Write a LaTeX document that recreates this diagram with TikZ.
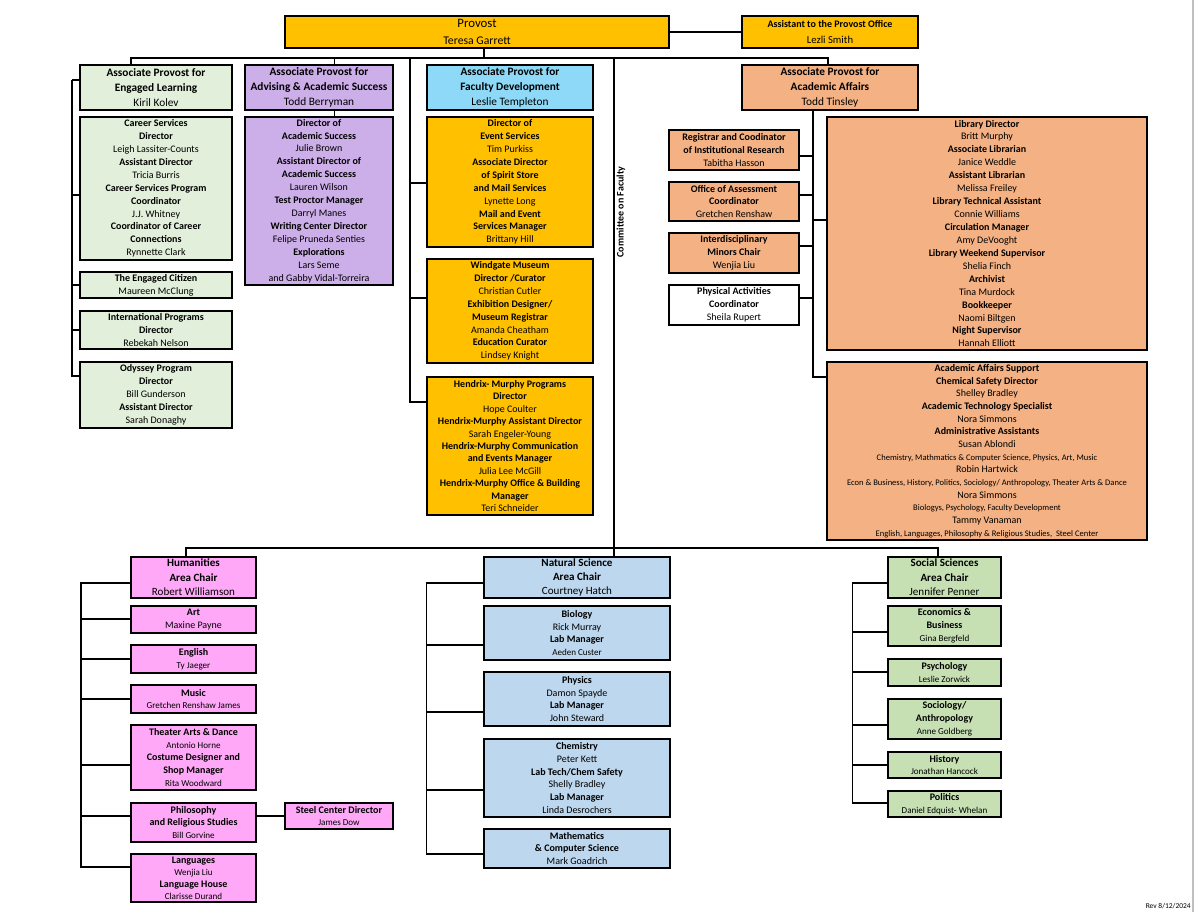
\documentclass[tikz,border=0pt]{standalone}
\usepackage{fontspec}
\setmainfont{Carlito}
\usepackage{xcolor}
\definecolor{goldbox}{RGB}{255,192,0}
\definecolor{sagebox}{RGB}{226,239,218}
\definecolor{lilacbox}{RGB}{204,174,232}
\definecolor{skybox}{RGB}{142,217,247}
\definecolor{peachbox}{RGB}{244,177,131}
\definecolor{pinkbox}{RGB}{255,168,247}
\definecolor{paleblue}{RGB}{189,215,238}
\definecolor{leafbox}{RGB}{198,224,180}
\newcommand{\ti}[1]{\textbf{#1}}
\newcommand{\smallname}[1]{{\fontsize{6.8}{9.7}\selectfont #1}}
\newcommand{\smallnote}[1]{{\fontsize{6.4}{9.5}\selectfont #1}}
\tikzset{
  orgbox/.style args={#1/#2/#3/#4}{draw=black,line width=0.8pt,inner sep=0pt,align=center,
    at={({(#1+#3)/2},{(#2+#4)/2})},
    minimum width={(#3-#1)*0.75pt},minimum height={(#4-#2)*0.75pt},
    font=\fontsize{7.5}{9.7}\selectfont},
  headtext/.style={font=\fontsize{8.5}{11.2}\selectfont},
  chairtext/.style={font=\fontsize{8.3}{10.8}\selectfont},
  linkline/.style={line width=0.8pt},
  heavyline/.style={line width=1.8pt}
}
\begin{document}
\begin{tikzpicture}[x=0.75pt,y=0.75pt,yscale=-1,xscale=1]
\useasboundingbox (0,0) rectangle (1197,912);

%Top row
\node (provost) [orgbox=285/16/669/48,fill=goldbox,font=\fontsize{8.8}{12.4}\selectfont] {{\fontsize{9.6}{12.4}\selectfont Provost}\\Teresa Garrett};
\node (assistant) [orgbox=742/16/918/48,fill=goldbox,font=\fontsize{8}{12}\selectfont] {{\fontsize{7.5}{12}\selectfont\ti{Assistant to the Provost Office}}\\Lezli Smith};

%Engaged learning column
\node (engaged) [orgbox=80/65/232/110,fill=sagebox,headtext] {\ti{Associate Provost for}\\\ti{Engaged Learning}\\Kiril Kolev};
\node (careers) [orgbox=80/117/232/260,fill=sagebox] {\ti{Career Services}\\\ti{Director}\\Leigh Lassiter-Counts\\\ti{Assistant Director}\\Tricia Burris\\\ti{Career Services Program}\\\ti{Coordinator}\\J.J. Whitney\\\ti{Coordinator of Career}\\\ti{Connections}\\Rynnette Clark};
\node (citizen) [orgbox=80/272/232/298,fill=sagebox] {\ti{The Engaged Citizen}\\Maureen McClung};
\node (international) [orgbox=80/311/232/349,fill=sagebox] {\ti{International Programs}\\\ti{Director}\\Rebekah Nelson};
\node (odyssey) [orgbox=80/362/232/428,fill=sagebox] {\ti{Odyssey Program}\\\ti{Director}\\Bill Gunderson\\\ti{Assistant Director}\\Sarah Donaghy};

%Advising column
\node (advising) [orgbox=245/65/393/110,fill=lilacbox,headtext] {\ti{Associate Provost for}\\\ti{Advising \& Academic Success}\\Todd Berryman};
\node (success) [orgbox=245/117/393/285,fill=lilacbox] {\ti{Director of}\\\ti{Academic Success}\\Julie Brown\\\ti{Assistant Director of}\\\ti{Academic Success}\\Lauren Wilson\\\ti{Test Proctor Manager}\\Darryl Manes\\\ti{Writing Center Director}\\Felipe Pruneda Senties\\\ti{Explorations}\\Lars Seme\\and Gabby Vidal-Torreira};

%Faculty development column
\node (faculty) [orgbox=427/65/593/110,fill=skybox,headtext] {\ti{Associate Provost for}\\\ti{Faculty Development}\\Leslie Templeton};
\node (events) [orgbox=427/117/593/247,fill=goldbox] {\ti{Director of}\\\ti{Event Services}\\Tim Purkiss\\\ti{Associate Director}\\\ti{of Spirit Store}\\\ti{and Mail Services}\\Lynette Long\\\ti{Mail and Event}\\\ti{Services Manager}\\Brittany Hill};
\node (windgate) [orgbox=427/259/593/363,fill=goldbox] {\ti{Windgate Museum}\\\ti{Director /Curator}\\Christian Cutler\\\ti{Exhibition Designer/}\\\ti{Museum Registrar}\\Amanda Cheatham\\\ti{Education Curator}\\Lindsey Knight};
\node (hendrix) [orgbox=427/377/593/515,fill=goldbox,font=\fontsize{7.5}{9.35}\selectfont] {\ti{Hendrix- Murphy Programs}\\\ti{Director}\\Hope Coulter\\\ti{Hendrix-Murphy Assistant Director}\\Sarah Engeler-Young\\\ti{Hendrix-Murphy Communication}\\\ti{and Events Manager}\\Julia Lee McGill\\\ti{Hendrix-Murphy Office \& Building}\\\ti{Manager}\\Teri Schneider};

%Academic affairs column
\node (affairs) [orgbox=742/65/918/110,fill=peachbox,headtext] {\ti{Associate Provost for}\\\ti{Academic Affairs}\\Todd Tinsley};
\node (registrar) [orgbox=669/130/799/170,fill=peachbox] {\ti{Registrar and Coodinator}\\\ti{of Institutional Research}\\Tabitha Hasson};
\node (assessment) [orgbox=669/182/799/221,fill=peachbox] {\ti{Office of Assessment}\\\ti{Coordinator}\\Gretchen Renshaw};
\node (minors) [orgbox=669/233/799/273,fill=peachbox] {\ti{Interdisciplinary}\\\ti{Minors Chair}\\Wenjia Liu};
\node (physical) [orgbox=669/285/799/325,fill=white] {\ti{Physical Activities}\\\ti{Coordinator}\\Sheila Rupert};
\node (library) [orgbox=827/117/1147/350,fill=peachbox] {\ti{Library Director}\\Britt Murphy\\\ti{Associate Librarian}\\Janice Weddle\\\ti{Assistant Librarian}\\Melissa Freiley\\\ti{Library Technical Assistant}\\Connie Williams\\\ti{Circulation Manager}\\Amy DeVooght\\\ti{Library Weekend Supervisor}\\Shelia Finch\\\ti{Archivist}\\Tina Murdock\\\ti{Bookkeeper}\\Naomi Biltgen\\\ti{Night Supervisor}\\Hannah Elliott};
\node (support) [orgbox=827/362/1147/540,fill=peachbox,font=\fontsize{7.5}{9.5}\selectfont] {\ti{Academic Affairs Support}\\\ti{Chemical Safety Director}\\Shelley Bradley\\\ti{Academic Technology Specialist}\\Nora Simmons\\\ti{Administrative Assistants}\\Susan Ablondi\\\smallnote{Chemistry, Mathmatics \& Computer Science, Physics, Art, Music}\\Robin Hartwick\\\smallnote{Econ \& Business, History, Politics, Sociology/ Anthropology, Theater Arts \& Dance}\\Nora Simmons\\\smallnote{Biologys, Psychology, Faculty Development}\\Tammy Vanaman\\\smallnote{English, Languages, Philosophy \& Religious Studies,\ \ Steel Center}};

%Committee label
\node (committee) [rotate=90,inner sep=0pt,font=\fontsize{7.5}{9.7}\selectfont] at (621,212) {\ti{Committee on Faculty}};

%Humanities column
\node (humanities) [orgbox=131/557/256/598,fill=pinkbox,chairtext] {\ti{Humanities}\\\ti{Area Chair}\\Robert Williamson};
\node (art) [orgbox=131/606/256/633,fill=pinkbox] {\ti{Art}\\Maxine Payne};
\node (english) [orgbox=131/645/256/673,fill=pinkbox] {\ti{English}\\\smallname{Ty Jaeger}};
\node (music) [orgbox=131/685/256/713,fill=pinkbox] {\ti{Music}\\\smallname{Gretchen Renshaw James}};
\node (theater) [orgbox=131/725/256/790,fill=pinkbox] {\ti{Theater Arts \& Dance}\\\smallname{Antonio Horne}\\\ti{Costume Designer and}\\\ti{Shop Manager}\\\smallname{Rita Woodward}};
\node (philosophy) [orgbox=131/803/256/842,fill=pinkbox] {\ti{Philosophy}\\\ti{and Religious Studies}\\\smallname{Bill Gorvine}};
\node (languages) [orgbox=131/854/256/902,fill=pinkbox,font=\fontsize{7.5}{9}\selectfont] {\ti{Languages}\\\smallname{Wenjia Liu}\\\ti{Language House}\\\smallname{Clarisse Durand}};
\node (steel) [orgbox=285/803/393/829,fill=pinkbox] {\ti{Steel Center Director}\\\smallname{James Dow}};

%Natural science column
\node (natural) [orgbox=484/557/670/598,fill=paleblue,chairtext] {\ti{Natural Science}\\\ti{Area Chair}\\Courtney Hatch};
\node (biology) [orgbox=484/606/670/660,fill=paleblue] {\ti{Biology}\\Rick Murray\\\ti{Lab Manager}\\\smallname{Aeden Custer}};
\node (physics) [orgbox=484/672/670/726,fill=paleblue] {\ti{Physics}\\Damon Spayde\\\ti{Lab Manager}\\John Steward};
\node (chemistry) [orgbox=484/739/670/817,fill=paleblue] {\ti{Chemistry}\\Peter Kett\\\ti{Lab Tech/Chem Safety}\\Shelly Bradley\\\ti{Lab Manager}\\Linda Desrochers};
\node (math) [orgbox=484/829/670/868,fill=paleblue] {\ti{Mathematics}\\\ti{\& Computer Science}\\Mark Goadrich};

%Social sciences column
\node (social) [orgbox=888/557/1001/598,fill=leafbox,chairtext] {\ti{Social Sciences}\\\ti{Area Chair}\\Jennifer Penner};
\node (economics) [orgbox=888/606/1001/646,fill=leafbox] {\ti{Economics \&}\\\ti{Business}\\\smallname{Gina Bergfeld}};
\node (psychology) [orgbox=888/659/1001/686,fill=leafbox] {\ti{Psychology}\\\smallname{Leslie Zorwick}};
\node (sociology) [orgbox=888/699/1001/739,fill=leafbox] {\ti{Sociology/}\\\ti{Anthropology}\\\smallname{Anne Goldberg}};
\node (history) [orgbox=888/752/1001/778,fill=leafbox] {\ti{History}\\\smallname{Jonathan Hancock}};
\node (politics) [orgbox=888/791/1001/817,fill=leafbox] {\ti{Politics}\\\smallname{Daniel Edquist- Whelan}};

%Revision mark
\node (revision) [anchor=east,inner sep=0pt,font=\fontsize{5.6}{6}\selectfont] at (1191,906) {Rev 8/12/2024};
\draw [color=black!25,line width=1pt] (1193,0) -- (1193,912);

%Spine points
\coordinate (buswest) at (131,58);
\coordinate (buseast) at (828,58);
\coordinate (busstem) at (484,58);
\coordinate (busadvising) at (334.5,58);
\coordinate (spinefaculty) at (410,58);
\coordinate (spineengaged) at (72,80);
\coordinate (spineaffairs) at (813,110);
\coordinate (spinecommittee) at (614,58);
\coordinate (barwest) at (186,548);
\coordinate (bareast) at (938,548);
\coordinate (spinehuman) at (81,583);
\coordinate (spinenatural) at (426.5,583);
\coordinate (spinesocial) at (852.5,583);

%Provost links
\draw [linkline] (provost.east) -- (assistant.west);
\draw [linkline] (busstem |- provost.south) -- (busstem);
\draw [linkline] (buswest |- engaged.north) -- (buswest) -- (buseast) -- (buseast |- affairs.north);
\draw [linkline] (busadvising) -- (busadvising |- advising.north);
\draw [linkline] (busadvising |- advising.south) -- (busadvising |- success.north);

%Engaged learning links
\draw [linkline] (spineengaged) -- (engaged.west |- spineengaged);
\draw [linkline] (spineengaged) -- (spineengaged |- 0,376) -- (odyssey.west |- 0,376);
\draw [linkline] (spineengaged |- 0,195) -- (careers.west |- 0,195);
\draw [linkline] (spineengaged |- 0,285) -- (citizen.west |- 0,285);
\draw [linkline] (spineengaged |- 0,330) -- (international.west |- 0,330);

%Faculty development links
\draw [linkline] (spinefaculty) -- (spinefaculty |- 0,402) -- (hendrix.west |- 0,402);
\draw [linkline] (spinefaculty |- 0,183) -- (events.west |- 0,183);
\draw [linkline] (spinefaculty |- 0,298) -- (windgate.west |- 0,298);

%Academic affairs links
\draw [linkline] (spineaffairs) -- (spineaffairs |- 0,377) -- (support.west |- 0,377);
\draw [linkline] (registrar.east |- 0,156) -- (spineaffairs |- 0,156);
\draw [linkline] (assessment.east |- 0,195) -- (spineaffairs |- 0,195);
\draw [linkline] (minors.east |- 0,246) -- (spineaffairs |- 0,246);
\draw [linkline] (physical.east |- 0,298) -- (spineaffairs |- 0,298);
\draw [linkline] (spineaffairs |- 0,220) -- (library.west |- 0,220);

%Committee links
\draw [heavyline] (spinecommittee) -- (spinecommittee |- natural.north);
\draw [heavyline] (barwest |- humanities.north) -- (barwest) -- (bareast) -- (bareast |- social.north);

%Humanities links
\draw [linkline] (humanities.west |- spinehuman) -- (spinehuman) -- (spinehuman |- 0,867) -- (languages.west |- 0,867);
\draw [linkline] (spinehuman |- 0,619) -- (art.west |- 0,619);
\draw [linkline] (spinehuman |- 0,659) -- (english.west |- 0,659);
\draw [linkline] (spinehuman |- 0,699) -- (music.west |- 0,699);
\draw [linkline] (spinehuman |- 0,765) -- (theater.west |- 0,765);
\draw [linkline] (spinehuman |- 0,816) -- (philosophy.west |- 0,816);
\draw [linkline] (philosophy.east |- 0,816) -- (steel.west |- 0,816);

%Natural science links
\draw [linkline] (natural.west |- spinenatural) -- (spinenatural) -- (spinenatural |- 0,854) -- (math.west |- 0,854);
\draw [linkline] (spinenatural |- 0,645) -- (biology.west |- 0,645);
\draw [linkline] (spinenatural |- 0,712) -- (physics.west |- 0,712);
\draw [linkline] (spinenatural |- 0,790) -- (chemistry.west |- 0,790);

%Social sciences links
\draw [linkline] (social.west |- spinesocial) -- (spinesocial) -- (spinesocial |- 0,803) -- (politics.west |- 0,803);
\draw [linkline] (spinesocial |- 0,632) -- (economics.west |- 0,632);
\draw [linkline] (spinesocial |- 0,672) -- (psychology.west |- 0,672);
\draw [linkline] (spinesocial |- 0,725) -- (sociology.west |- 0,725);
\draw [linkline] (spinesocial |- 0,765) -- (history.west |- 0,765);

\end{tikzpicture}
\end{document}
